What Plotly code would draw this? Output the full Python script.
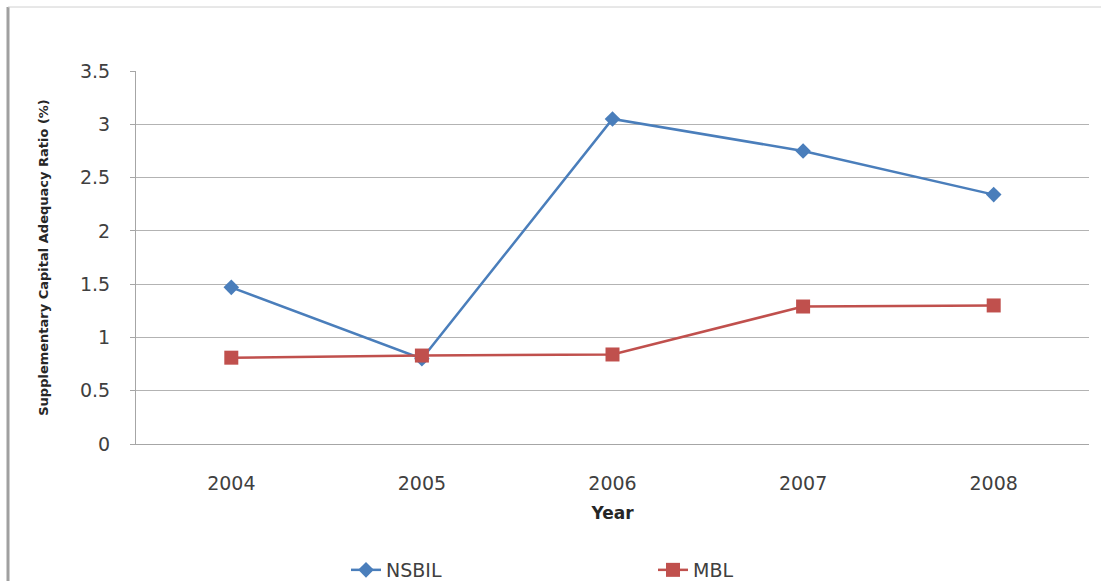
import plotly.graph_objects as go

years = ["2004", "2005", "2006", "2007", "2008"]
nsbil = [1.47, 0.80, 3.05, 2.75, 2.34]
mbl = [0.81, 0.83, 0.84, 1.29, 1.30]
y_ticks = [0, 0.5, 1, 1.5, 2, 2.5, 3, 3.5]
y_tick_text = ["0", "0.5", "1", "1.5", "2", "2.5", "3", "3.5"]

W, H = 1105, 581
L, R, T, B = 136, 1089, 71, 444

def px_x(px):
    return (px - L) / (R - L)

def px_y(py):
    return (B - py) / (B - T)

FONT = "DejaVu Sans"

fig = go.Figure()
fig.add_trace(go.Scatter(
    x=years, y=nsbil, name="NSBIL", mode="lines+markers",
    line=dict(color="#4A7EBB", width=2.5),
    marker=dict(symbol="diamond", size=12, color="#4A7EBB"),
))
fig.add_trace(go.Scatter(
    x=years, y=mbl, name="MBL", mode="lines+markers",
    line=dict(color="#C0504D", width=2.5),
    marker=dict(symbol="square", size=14, color="#C0504D"),
))

fig.update_layout(
    width=W, height=H,
    margin=dict(l=L, r=W - R, t=T, b=H - B, pad=0, autoexpand=False),
    paper_bgcolor="white", plot_bgcolor="white",
    font=dict(family=FONT, color="#404040", size=18),
    showlegend=True,
    legend=dict(
        orientation="h", x=px_x(346), y=px_y(570), xanchor="left", yanchor="middle",
        font=dict(size=19, color="#404040", family=FONT),
        entrywidth=262, entrywidthmode="pixels",
        bgcolor="rgba(0,0,0,0)", itemclick=False,
    ),
    xaxis=dict(
        type="category", showgrid=False, showline=True, linecolor="#A6A6A6", linewidth=1,
        ticks="", tickfont=dict(size=19, color="#404040"), ticklabelstandoff=22,
        title=dict(text="<b>Year</b>", font=dict(size=17, color="#262626"), standoff=14),
        range=[-0.5, 4.5], fixedrange=True,
    ),
    yaxis=dict(
        range=[0, 3.5], tickvals=y_ticks, ticktext=y_tick_text,
        showgrid=True, gridcolor="#B3B3B3", gridwidth=1,
        showline=True, linecolor="#A6A6A6", linewidth=1,
        ticks="outside", ticklen=5, tickcolor="#A6A6A6",
        tickfont=dict(size=19, color="#404040"), ticklabelstandoff=16,
        zeroline=False,
        title=dict(text="<b>Supplementary Capital Adequacy Ratio (%)</b>",
                   font=dict(size=13, color="#262626"), standoff=28),
    ),
)

# outer chart border (left and top)
fig.add_shape(type="line", xref="paper", yref="paper",
              x0=px_x(8), x1=px_x(8), y0=px_y(7), y1=px_y(581),
              line=dict(color="#A0A0A0", width=3))
fig.add_shape(type="line", xref="paper", yref="paper",
              x0=px_x(8), x1=px_x(1101), y0=px_y(7), y1=px_y(7),
              line=dict(color="#D0D0D0", width=1))

fig.write_html("out.html")
